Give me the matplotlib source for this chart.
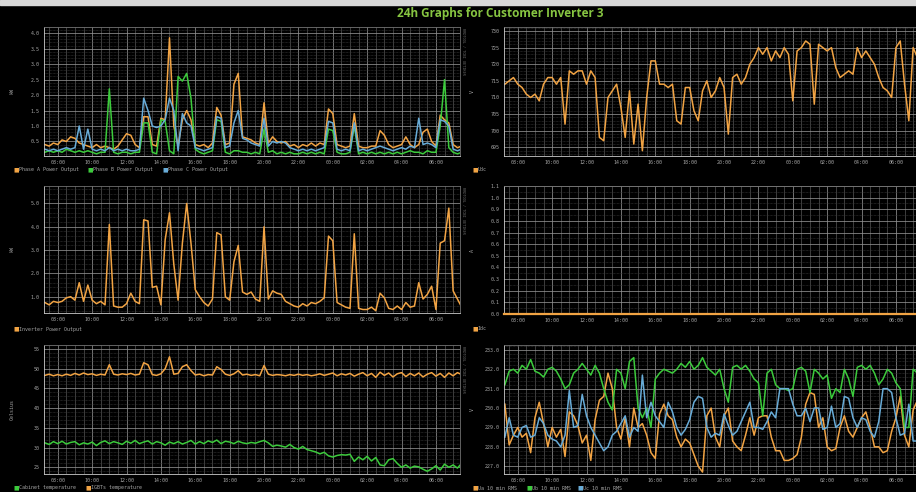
import numpy as np
import matplotlib.pyplot as plt
from matplotlib.ticker import MultipleLocator, FuncFormatter
from matplotlib.patches import Rectangle

# ----------------------------
# DATA  (15 min samples starting 07:15, hours > 24 = next day)
# ----------------------------
T_START = 7.25
T_STEP = 0.25

# kW per phase
phase_a = [
    0.40, 0.35, 0.45,
    0.40, 0.55, 0.50, 0.65,   # 08
    0.60, 0.45, 0.40, 0.35,   # 09
    0.30, 0.40, 0.30, 0.35,   # 10
    0.30, 0.25, 0.35, 0.55,   # 11
    0.75, 0.70, 0.40, 0.30,   # 12
    1.30, 1.30, 0.40, 0.35,   # 13
    1.25, 1.20, 3.85, 1.00,   # 14
    0.35, 1.20, 1.50, 1.20,   # 15
    0.40, 0.35, 0.40, 0.30,   # 16
    0.45, 1.60, 1.35, 0.40,   # 17
    0.45, 2.35, 2.70, 0.65,   # 18
    0.60, 0.55, 0.45, 0.40,   # 19
    1.75, 0.45, 0.65, 0.50,   # 20
    0.45, 0.50, 0.35, 0.40,   # 21
    0.30, 0.40, 0.35, 0.45,   # 22
    0.35, 0.45, 0.40, 1.55,   # 23
    1.40, 0.40, 0.35, 0.30,   # 00
    0.35, 1.40, 0.35, 0.30,   # 01
    0.30, 0.35, 0.35, 0.85,   # 02
    0.70, 0.40, 0.30, 0.35,   # 03
    0.40, 0.65, 0.40, 0.30,   # 04
    0.40, 0.80, 0.90, 0.50,   # 05
    0.35, 1.35, 1.20, 1.10,   # 06
    0.40, 0.30, 0.35,         # 07
]
phase_b = [
    0.15, 0.20, 0.15,
    0.20, 0.15, 0.25, 0.20,
    0.15, 0.20, 0.15, 0.20,
    0.15, 0.10, 0.15, 0.15,
    2.20, 0.15, 0.10, 0.15,
    0.15, 0.10, 0.15, 0.15,
    1.10, 1.10, 0.15, 0.10,
    1.20, 1.15, 0.20, 0.10,
    2.60, 2.45, 2.70, 1.90,
    0.25, 0.15, 0.10, 0.15,
    0.20, 1.20, 1.15, 0.15,
    0.10, 0.20, 0.20, 0.15,
    0.15, 0.10, 0.15, 0.10,
    0.90, 0.15, 0.20, 0.10,
    0.15, 0.10, 0.15, 0.10,
    0.10, 0.15, 0.10, 0.15,
    0.10, 0.15, 0.10, 0.90,
    0.85, 0.15, 0.10, 0.10,
    0.15, 1.00, 0.10, 0.15,
    0.10, 0.15, 0.10, 0.15,
    0.10, 0.15, 0.10, 0.15,
    0.10, 0.15, 0.20, 0.15,
    0.15, 0.10, 0.20, 0.15,
    0.15, 1.00, 2.50, 0.30,
    0.15, 0.10, 0.15,
]
phase_c = [
    0.25, 0.20, 0.25,
    0.20, 0.25, 0.30, 0.25,
    0.30, 1.00, 0.25, 0.90,
    0.25, 0.20, 0.25, 0.20,
    0.30, 0.20, 0.25, 0.20,
    0.25, 0.20, 0.20, 0.25,
    1.90, 1.50, 1.00, 0.95,
    1.00, 1.20, 1.90, 1.50,
    0.20, 1.40, 1.10, 1.00,
    0.30, 0.25, 0.20, 0.25,
    0.30, 1.30, 1.25, 0.30,
    0.35, 1.10, 1.50, 0.60,
    0.55, 0.45, 0.40, 0.35,
    1.25, 0.35, 0.50, 0.45,
    0.50, 0.45, 0.30, 0.25,
    0.20, 0.25, 0.20, 0.25,
    0.20, 0.25, 0.30, 1.15,
    1.10, 0.25, 0.20, 0.25,
    0.20, 1.10, 0.20, 0.25,
    0.20, 0.25, 0.30, 0.35,
    0.30, 0.25, 0.20, 0.25,
    0.30, 0.25, 0.35, 0.30,
    1.25, 0.40, 0.45, 0.40,
    0.30, 1.20, 1.15, 1.00,
    0.25, 0.20, 0.25,
]

# DC voltage
udc = [
    714, 715, 716,
    714, 713, 711, 710,
    711, 709, 714, 716,
    716, 714, 716, 702,
    718, 717, 718, 718,
    714, 718, 716, 698,
    697, 710, 712, 714,
    707, 698, 712, 696,
    708, 694, 710, 721,
    721, 714, 714, 713,
    714, 703, 702, 713,
    713, 706, 703, 712,
    715, 710, 712, 716,
    713, 699, 716, 717,
    714, 716, 720, 722,
    725, 723, 725, 721,
    724, 722, 725, 723,
    709, 724, 725, 727,
    726, 708, 726, 725,
    724, 725, 719, 716,
    717, 718, 717, 725,
    722, 724, 722, 720,
    716, 713, 712, 710,
    725, 727, 714, 703,
    725, 722, 727,
]

# total inverter output, kW
inverter = [
    0.75, 0.65, 0.80,
    0.75, 0.80, 0.95, 1.00,
    0.85, 1.60, 0.80, 1.50,
    0.85, 0.70, 0.80, 0.65,
    4.10, 0.60, 0.55, 0.55,
    0.70, 1.15, 0.80, 0.70,
    4.30, 4.25, 1.40, 1.45,
    0.65, 3.45, 4.60, 2.40,
    0.85, 3.30, 5.00, 3.30,
    1.30, 1.00, 0.75, 0.60,
    0.90, 3.75, 3.65, 1.00,
    0.85, 2.50, 3.20, 1.20,
    1.10, 1.20, 0.90, 0.80,
    4.00, 0.90, 1.25, 1.15,
    1.10, 0.80, 0.70, 0.60,
    0.55, 0.70, 0.60, 0.75,
    0.70, 0.80, 0.95, 3.60,
    3.40, 0.75, 0.65, 0.55,
    0.50, 3.70, 0.50, 0.45,
    0.45, 0.55, 0.40, 1.15,
    0.95, 0.50, 0.45, 0.60,
    0.45, 0.75, 0.55, 0.60,
    1.60, 0.90, 1.10, 1.45,
    0.45, 3.30, 3.40, 4.80,
    1.25, 0.90, 0.55,
]

# DC current (flat zero over the day)
idc_t = [7.2, 31.4]
idc = [0.0, 0.0]

# temperatures, Celsius
cabinet_temp = [
    31.2, 30.8, 31.5,
    31.0, 31.6, 30.9, 31.3,
    31.5, 30.7, 31.2, 30.9,
    31.4, 30.5, 31.3, 31.7,
    31.0, 31.5, 31.2, 30.8,
    31.6, 31.1, 31.8, 31.0,
    31.4, 31.7, 30.9, 31.5,
    31.2, 30.6, 31.4, 31.0,
    31.5, 30.9, 31.3, 31.8,
    30.9, 31.5, 31.0, 31.7,
    31.3, 31.9, 31.0, 31.6,
    31.4, 31.0, 31.6, 31.2,
    31.0, 31.3, 31.1, 31.5,
    31.8, 31.2, 30.3, 30.6,
    30.4, 30.1, 30.8, 30.0,
    29.6, 30.3, 29.5, 29.2,
    28.9, 28.4, 28.8, 27.9,
    27.6, 28.0, 28.2, 28.1,
    28.3, 26.5, 27.6, 26.9,
    27.8, 26.6, 27.5, 25.6,
    25.4, 26.9, 27.2, 26.0,
    25.0, 25.6, 24.8, 25.3,
    25.1, 24.5, 24.0, 24.6,
    25.4, 24.3, 25.8, 25.0,
    25.6, 24.8, 26.0,
]
igbt_temp = [
    48.3, 48.6, 48.2,
    48.5, 48.2, 48.6, 48.3,
    48.8, 48.4, 48.9, 48.5,
    48.7, 48.3, 48.6, 48.4,
    51.0, 48.6, 48.4, 48.7,
    48.5, 48.8, 48.4, 48.6,
    51.5, 51.0, 48.5, 48.3,
    48.7, 50.0, 53.0, 48.6,
    48.8, 50.5, 51.0, 49.5,
    48.4, 48.6, 48.2, 48.5,
    48.4, 50.5, 49.8, 48.6,
    48.3, 48.7, 49.5, 48.4,
    48.6, 48.3, 48.5, 48.2,
    50.8, 48.6, 48.3, 48.5,
    48.4, 48.2, 48.5, 48.3,
    48.6, 48.3, 48.5, 48.2,
    48.4, 48.7, 48.3, 48.6,
    48.9, 48.2, 48.7, 48.4,
    48.8, 48.1, 48.6, 49.0,
    48.2, 48.8, 47.8, 49.1,
    48.3, 48.9, 47.9, 48.7,
    49.0, 48.0, 48.8, 48.2,
    48.9, 47.9, 48.6, 49.0,
    48.1, 48.8, 47.8, 48.9,
    48.2, 49.0, 48.5,
]

# AC phase voltages, 10 min RMS
ua = [
    230.2, 228.1, 228.6,
    229.0, 228.5, 228.7, 227.7,
    229.5, 230.3, 229.2, 228.0,
    229.0, 228.5, 228.9, 227.5,
    229.8, 229.6, 229.1, 228.2,
    228.6, 227.3, 229.4, 230.4,
    230.6, 231.8, 231.0, 229.0,
    228.4, 229.5, 228.0, 230.0,
    229.0, 229.2, 228.6, 227.7,
    227.4, 229.7, 230.2, 229.6,
    229.4, 228.5, 228.0, 228.4,
    228.2, 227.6, 227.0, 226.7,
    229.6, 230.0, 228.5, 228.0,
    229.6, 230.0, 228.3, 228.0,
    227.8, 228.6, 229.5, 228.6,
    229.5, 229.6, 229.6, 228.5,
    227.8, 227.8, 227.3, 227.3,
    227.4, 227.6, 228.5, 230.2,
    230.8, 230.7, 229.0, 229.5,
    228.0, 227.8, 227.9, 229.0,
    229.6, 228.8, 228.5, 229.0,
    229.5, 229.8, 229.0, 228.0,
    228.0, 227.7, 227.8, 228.8,
    229.5, 230.6, 228.6, 228.0,
    229.9, 230.4,
]
ub = [
    231.2, 231.9, 232.0,
    231.8, 232.2, 232.0, 232.5,
    231.9, 231.8, 231.6, 232.0,
    232.1, 231.9, 231.5, 231.0,
    231.2, 231.8, 232.0, 232.3,
    232.0, 231.7, 232.2, 231.8,
    231.0, 230.3, 229.9, 232.0,
    231.8, 231.0, 232.4, 232.6,
    230.0, 229.5, 230.0, 229.0,
    231.5, 231.8, 232.0, 231.9,
    231.8, 232.0, 232.3, 232.1,
    232.4, 232.0, 232.2, 232.6,
    232.1, 231.9, 231.7, 232.0,
    231.0, 230.3, 232.1, 232.2,
    232.0, 232.2, 231.9, 231.5,
    231.3, 229.6, 231.8, 232.0,
    231.2, 231.0, 231.0, 230.9,
    231.0, 232.0, 232.1, 231.9,
    230.8, 232.0, 231.8, 231.5,
    231.7, 230.5, 231.0, 230.8,
    232.0, 231.5, 230.6, 232.1,
    232.2, 232.0, 232.2, 231.8,
    231.2, 231.5, 232.0, 231.8,
    231.3, 231.0, 229.0, 229.0,
    232.0, 231.8,
]
uc = [
    228.5, 229.5, 228.6,
    228.5, 229.0, 229.1, 228.5,
    228.6, 229.5, 229.2, 228.6,
    228.4, 228.3, 228.0, 228.6,
    230.9, 229.0, 229.1, 230.7,
    229.6, 229.0, 228.6, 228.2,
    227.8, 228.0, 228.6, 228.8,
    229.2, 229.6, 228.5, 229.0,
    228.8, 231.7, 229.5, 230.3,
    229.6, 229.3, 229.0, 230.3,
    229.8, 229.0, 228.6, 228.9,
    229.4, 230.3, 230.6, 230.5,
    229.0, 228.5, 228.7, 228.6,
    229.7, 229.1, 228.6, 228.8,
    229.3, 229.8, 230.3, 229.0,
    229.0, 228.9, 229.3, 229.8,
    229.5, 231.0, 231.0, 231.0,
    230.2, 229.6, 229.6, 230.0,
    229.3, 230.0, 230.0, 228.9,
    229.0, 230.1, 229.0, 229.2,
    230.6, 230.5, 229.5, 229.0,
    229.5, 229.4, 228.8, 228.5,
    229.3, 231.0, 231.0, 230.8,
    229.5, 228.6, 228.7, 230.2,
    228.3, 228.3,
]

# ----------------------------
# STYLE
# ----------------------------
W, H = 916, 492
X_MIN, X_MAX = 7.2, 31.4

ORANGE = "#f2a444"
GREEN = "#3ccb3c"
BLUE = "#68acd8"
TXT = "#a4a4a4"
FS = 3.6

plt.rcParams["font.family"] = ["DejaVu Sans Mono", "DejaVu Sans"]


def times(vals):
    return T_START + T_STEP * np.arange(len(vals))


fig = plt.figure(figsize=(W / 100, H / 100), dpi=100, facecolor="black")
fig.patches.append(Rectangle((0, 1 - 5 / H), 1, 5 / H, transform=fig.transFigure,
                             color="#d8d8d8", zorder=0))

fig.text(500 / W, 1 - 13 / H, "24h Graphs for Customer Inverter 3", color="#86c441",
         fontsize=8.5, fontweight="bold", family="Open Sans", ha="center", va="center")


def panel(x0, y0, x1, y1, ylim, major, minor, fmt, ylabel, lab_x):
    ax = fig.add_axes([x0 / W, 1 - y1 / H, (x1 - x0) / W, (y1 - y0) / H])
    ax.set_facecolor("black")
    ax.set_xlim(X_MIN, X_MAX)
    ax.set_ylim(*ylim)
    ax.xaxis.set_major_locator(MultipleLocator(2))
    ax.xaxis.set_minor_locator(MultipleLocator(0.5))
    ax.xaxis.set_major_formatter(FuncFormatter(lambda v, p: f"{int(round(v)) % 24:02d}:00"))
    ax.yaxis.set_major_locator(MultipleLocator(major))
    ax.yaxis.set_minor_locator(MultipleLocator(minor))
    ax.yaxis.set_major_formatter(FuncFormatter(lambda v, p: fmt.format(v)))
    ax.tick_params(which="both", length=0, colors=TXT, labelsize=FS, pad=3)
    ax.grid(which="minor", axis="y", color="#3a3a3a", lw=0.5, ls=(0, (1, 1)))
    ax.grid(which="minor", axis="x", color="#555555", lw=0.5)
    ax.grid(which="major", color="#909090", lw=0.55)
    ax.set_axisbelow(True)
    for s in ax.spines.values():
        s.set_color("#707070")
        s.set_linewidth(0.6)
    ax.spines["bottom"].set_color("#cccccc")
    ax.spines["left"].set_color("#cccccc")
    fig.text(lab_x / W, 1 - (y0 + y1) / 2 / H, ylabel, rotation=90, color=TXT,
             fontsize=FS, ha="center", va="center")
    return ax


def legend(y, items):
    for x, label, color in items:
        fig.text(x / W, 1 - y / H, "■", color=color, fontsize=4.2,
                 family="DejaVu Sans", ha="left", va="center")
        fig.text((x + 6) / W, 1 - y / H, label, color=TXT, fontsize=FS,
                 ha="left", va="center")


def watermark(y0):
    fig.text(463 / W, 1 - y0 / H, "RRDTOOL / TOBI OETIKER", rotation=270, color="#6a6a6a",
             fontsize=2.6, ha="center", va="top")


LW = 1.1

# top left: phase power
ax1 = panel(44, 27, 460, 156, (0.03, 4.2), 0.5, 0.1, "{:.1f}", "kW", 12)
ax1.plot(times(phase_a), phase_a, color=ORANGE, lw=LW)
ax1.plot(times(phase_b), phase_b, color=GREEN, lw=LW)
ax1.plot(times(phase_c), phase_c, color=BLUE, lw=LW)
legend(170, [(13, "Phase A Power Output", ORANGE),
             (87, "Phase B Power Output", GREEN),
             (162, "Phase C Power Output", BLUE)])
watermark(28)

# top right: Udc
ax2 = panel(504, 27, 920, 156, (692.4, 731.2), 5, 1, "{:.0f}", "V", 472)
ax2.plot(times(udc), udc, color=ORANGE, lw=LW)
legend(170, [(472, "Udc", ORANGE)])

# middle left: inverter output
ax3 = panel(44, 186, 460, 313, (0.3, 5.75), 1, 0.2, "{:.1f}", "kW", 12)
ax3.plot(times(inverter), inverter, color=ORANGE, lw=LW)
legend(329, [(13, "Inverter Power Output", ORANGE)])
watermark(187)

# middle right: Idc
ax4 = panel(504, 186, 920, 314, (0, 1.1), 0.1, 0.05, "{:.1f}", "A", 472)
ax4.plot(idc_t, idc, color=ORANGE, lw=1.6, clip_on=False, zorder=3)
legend(329, [(472, "Idc", ORANGE)])

# bottom left: temperatures
ax5 = panel(44, 345, 460, 474, (23.3, 56.0), 5, 1, "{:.0f}", "Celsius", 12)
ax5.plot(times(cabinet_temp), cabinet_temp, color=GREEN, lw=LW)
ax5.plot(times(igbt_temp), igbt_temp, color=ORANGE, lw=LW)
legend(488, [(13, "Cabinet temperature", GREEN),
             (85, "IGBTs temperature", ORANGE)])
watermark(346)

# bottom right: AC voltages
ax6 = panel(504, 345, 920, 474, (226.6, 233.25), 1, 0.2, "{:.1f}", "V", 472)
ax6.plot(times(ua), ua, color=ORANGE, lw=LW)
ax6.plot(times(ub), ub, color=GREEN, lw=LW)
ax6.plot(times(uc), uc, color=BLUE, lw=LW)
legend(488, [(472, "Ua 10 min RMS", ORANGE),
             (526, "Ub 10 min RMS", GREEN),
             (577, "Uc 10 min RMS", BLUE)])

fig.savefig("out.png", dpi=100, facecolor="black")
